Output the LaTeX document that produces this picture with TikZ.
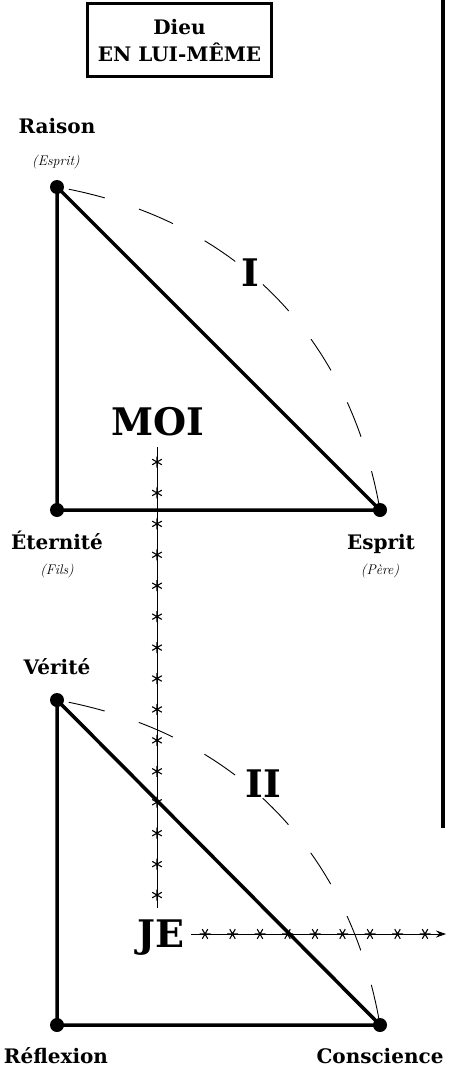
\documentclass[tikz,border=0pt]{standalone}
\usepackage{fontspec}
\newfontfamily\lbl{DejaVu Serif}
\usetikzlibrary{arrows.meta}
\begin{document}
\begin{tikzpicture}[x=1pt,y=-1pt,
  dot/.style={circle,fill,inner sep=0pt,minimum size=14pt},
  edge/.style={line width=3.5pt},
  arcd/.style={line width=0.9pt,dash pattern=on 37pt off 36pt,dash phase=61pt},
  lab/.style={font=\lbl\bfseries\fontsize{20}{24}\selectfont,inner sep=0pt,anchor=base},
  scr/.style={font=\itshape\fontsize{14}{16}\selectfont,inner sep=0pt},
  big/.style={font=\lbl\bfseries\fontsize{38}{42}\selectfont,inner sep=0pt,anchor=base},
  ast/.pic={\draw[line width=1.1pt] (0,-5.5)--(0,5.5) (-4.8,-2.75)--(4.8,2.75) (-4.8,2.75)--(4.8,-2.75);},
  asth/.pic={\draw[line width=1.1pt] (-5.5,0)--(5.5,0) (-2.75,-4.8)--(2.75,4.8) (2.75,-4.8)--(-2.75,4.8);}
]
\useasboundingbox (0,0) rectangle (449,1067);

% title box
\node[draw,line width=3pt,minimum width=184pt,minimum height=73pt,align=center,
  font=\lbl\bfseries\fontsize{20}{27}\selectfont] (dieu) at (179.5,40.5) {Dieu\\EN LUI-MÊME};

% right rule
\coordinate (rt) at (443,0);
\coordinate (rb) at (443,828);
\draw[line width=3.5pt] (rt) -- (rb);

% triangle I
\node[dot] (raison) at (57,187) {};
\node[dot] (eter) at (57,510) {};
\node[dot] (esprit) at (380,510) {};
\draw[edge] (raison.center) -- (eter.center) -- (esprit.center) -- (raison.center);
\draw[arcd] (raison.center) to[bend left=35] (esprit.center);
\node[lab] (lraison) at (57,134) {Raison};
\node[scr] (sraison) at (56,162) {(Esprit)};
\node[lab] (leter) at (57,549) {Éternité};
\node[scr] (seter) at (57,571) {(Fils)};
\node[lab] (lesprit) at (381,549) {Esprit};
\node[scr] (sesprit) at (380,571) {(Père)};
\node[big] (one) at (250,286) {I};

% triangle II
\node[dot] (verite) at (57,700) {};
\node[dot] (reflex) at (57,1025) {};
\node[dot] (consc) at (380,1025) {};
\draw[edge] (verite.center) -- (reflex.center) -- (consc.center) -- (verite.center);
\draw[arcd] (verite.center) to[bend left=35] (consc.center);
\node[lab] (lverite) at (57,674) {Vérité};
\node[lab] (lreflex) at (56,1063) {Réflexion};
\node[lab] (lconsc) at (380,1063) {Conscience};
\node[big] (two) at (263,797) {II};

% MOI vertical
\node[big] (moi) at (157.5,435) {MOI};
\coordinate (vtop) at (157,447);
\coordinate (vbot) at (157,908);
\draw[line width=0.9pt] (vtop) -- (vbot);
\foreach \i in {0,...,14} \pic at (157,{462+30.93*\i}) {ast};

% JE horizontal
\node[big] (je) at (161,947) {JE};
\coordinate (hstart) at (191,934);
\coordinate (hend) at (446,934);
\draw[line width=0.9pt,-{Stealth[length=10pt,width=7pt]}] (hstart) -- (hend);
\foreach \i in {0,...,8} \pic at ({205+27.5*\i},934) {asth};
\end{tikzpicture}
\end{document}
